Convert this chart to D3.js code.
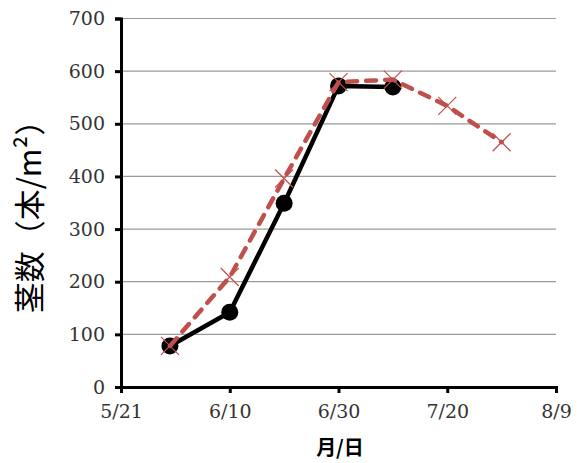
<!DOCTYPE html>
<html>
<head>
<meta charset="utf-8">
<script src="https://cdn.jsdelivr.net/npm/d3@7"></script>
<style>
  html, body { margin: 0; padding: 0; background: #fff; }
  svg { display: block; }
  .tick text { font-family: "DejaVu Serif", serif; font-size: 19px; fill: #333; }
</style>
</head>
<body>
<svg id="chart" width="584" height="463"></svg>
<script>
// Survey dates (month/day, 2014 calendar used only for spacing)
const datesA = ["5/30", "6/10", "6/20", "6/30", "7/10"];
const valuesA = [78, 142, 349, 572, 570];
const datesB = ["5/30", "6/10", "6/20", "6/30", "7/10", "7/20", "7/30"];
const valuesB = [78, 209, 396, 579, 584, 534, 465];
const xTickLabels = ["5/21", "6/10", "6/30", "7/20", "8/9"];
const yTicks = [0, 100, 200, 300, 400, 500, 600, 700];

const parse = s => { const [m, d] = s.split("/").map(Number); return new Date(2014, m - 1, d); };

const svg = d3.select("#chart");
const margin = { left: 121, right: 28, top: 18.5, bottom: 76 };
const W = 584, H = 463;

const x = d3.scaleTime()
  .domain([parse("5/21"), parse("8/9")])
  .range([margin.left, W - margin.right]);
const y = d3.scaleLinear()
  .domain([0, 700])
  .range([H - margin.bottom, margin.top]);

// horizontal gridlines
svg.append("g")
  .selectAll("line")
  .data(yTicks.filter(v => v > 0))
  .join("line")
  .attr("x1", margin.left).attr("x2", W - margin.right)
  .attr("y1", d => y(d)).attr("y2", d => y(d))
  .attr("stroke", "#9a9a9a").attr("stroke-width", 1.2);

// y axis
const yAxis = svg.append("g")
  .attr("transform", `translate(${margin.left},0)`)
  .call(d3.axisLeft(y).tickValues(yTicks).tickSize(6).tickPadding(10).tickFormat(d3.format("d")));
yAxis.attr("font-family", null).attr("font-size", null);
yAxis.select(".domain").attr("stroke", "#000").attr("stroke-width", 3);
yAxis.selectAll(".tick line").attr("stroke", "#000").attr("stroke-width", 3);

// x axis
const xAxis = svg.append("g")
  .attr("transform", `translate(0,${y(0)})`)
  .call(d3.axisBottom(x).tickValues(xTickLabels.map(parse)).tickSize(6).tickPadding(12)
    .tickFormat((d, i) => xTickLabels[i]));
xAxis.attr("font-family", null).attr("font-size", null);
xAxis.select(".domain").attr("stroke", "#000").attr("stroke-width", 3);
xAxis.selectAll(".tick line").attr("stroke", "#000").attr("stroke-width", 3);

// axis titles
svg.append("text")
  .attr("transform", `translate(41,209) rotate(-90)`)
  .attr("text-anchor", "middle")
  .style("font-family", "'Noto Sans CJK JP', sans-serif")
  .style("font-size", "31px")
  .attr("fill", "#000")
  .text("茎数（本/m²）");

svg.append("text")
  .attr("x", 340).attr("y", 455)
  .attr("text-anchor", "middle")
  .style("font-family", "'Noto Sans CJK JP', sans-serif")
  .style("font-weight", "bold")
  .style("font-size", "20px")
  .attr("fill", "#000")
  .text("月/日");

const line = d3.line().x(d => x(parse(d[0]))).y(d => y(d[1]));
const ptsA = datesA.map((d, i) => [d, valuesA[i]]);
const ptsB = datesB.map((d, i) => [d, valuesB[i]]);

// series A: solid black with circles
svg.append("path")
  .datum(ptsA)
  .attr("d", line)
  .attr("fill", "none")
  .attr("stroke", "#000")
  .attr("stroke-width", 4.5)
  .attr("stroke-linejoin", "round");
svg.append("g")
  .selectAll("circle")
  .data(ptsA)
  .join("circle")
  .attr("cx", d => x(parse(d[0])))
  .attr("cy", d => y(d[1]))
  .attr("r", 8.5)
  .attr("fill", "#000");

// series B: red dashed with x markers
const red = "#C0504D";
svg.append("path")
  .datum(ptsB)
  .attr("d", line)
  .attr("fill", "none")
  .attr("stroke", red)
  .attr("stroke-width", 4.5)
  .attr("stroke-dasharray", "10,9")
  .attr("stroke-linecap", "round")
  .attr("stroke-linejoin", "round");
const s = 9;
svg.append("g")
  .selectAll("path")
  .data(ptsB)
  .join("path")
  .attr("d", d => {
    const cx = x(parse(d[0])), cy = y(d[1]);
    return `M${cx - s},${cy - s}L${cx + s},${cy + s}M${cx - s},${cy + s}L${cx + s},${cy - s}`;
  })
  .attr("stroke", red)
  .attr("stroke-width", 1.2)
  .attr("fill", "none");
</script>
</body>
</html>
